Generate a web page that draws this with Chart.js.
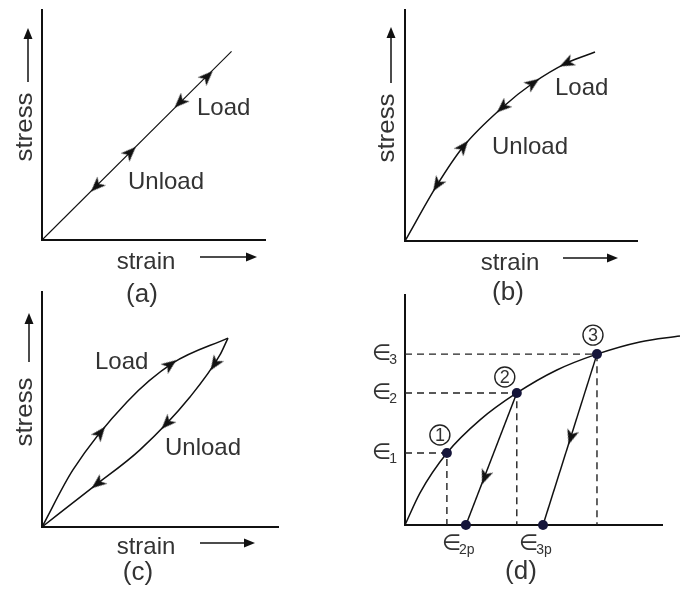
<!DOCTYPE html>
<html>
<head>
<meta charset="utf-8">
<script src="https://cdn.jsdelivr.net/npm/chart.js@4.4.0/dist/chart.umd.min.js"></script>
<style>
  body { margin: 0; background: #fff; }
  #wrap { position: relative; width: 681px; height: 592px; }
  #wrap canvas { position: absolute; left: 0; top: 0; }
</style>
</head>
<body>
<div id="wrap">
  <canvas id="chartA" width="681" height="592"></canvas>
  <canvas id="chartB" width="681" height="592"></canvas>
  <canvas id="chartC" width="681" height="592"></canvas>
  <canvas id="chartD" width="681" height="592"></canvas>
</div>
<script>
// (a) linear elastic
const lineAX = [0, 8.5];
const lineAY = [0, 8.2];
const arrowsAX = [2.45, 3.95, 6.2, 7.4];
const arrowsAY = [2.35, 3.8, 6.0, 7.1];
const arrowsADir = [-1, 1, -1, 1];

// (b) non-linear elastic
const curveBX = [0, 1.38, 2.5, 4.22, 5.52, 6.98, 8.19];
const curveBY = [0, 2.42, 4.07, 5.8, 6.84, 7.71, 8.18];
const arrowsBX = [1.4, 2.5, 4.22, 5.5, 6.98];
const arrowsBY = [2.45, 4.07, 5.8, 6.82, 7.71];
const arrowsBDir = [-1, 1, -1, 1, -1];

// (c) hysteresis loop
const loadCX = [0, 1.31, 3.6, 5.55, 7.88];
const loadCY = [0, 2.43, 5.32, 6.98, 8.04];
const unloadCX = [0, 2.16, 4.15, 6.27, 7.54, 7.88];
const unloadCY = [0, 1.7, 3.28, 5.53, 7.32, 8.04];
const loadArrowsCX = [2.46, 5.42];
const loadArrowsCY = [4.0, 6.9];
const unloadArrowsCX = [7.33, 5.3, 2.37];
const unloadArrowsCY = [6.95, 4.42, 1.86];

// (d) plastic loading / unloading
const curveDX = [0, 0.58, 1.63, 2.92, 4.35, 5.91, 7.47, 9.14, 10.7];
const curveDY = [0, 1.39, 3.13, 4.57, 5.74, 6.74, 7.43, 7.96, 8.22];
const stateX = [1.63, 4.35, 7.47];
const stateY = [3.13, 5.74, 7.43];
const stateNames = ['1', '2', '3'];
const plasticX = [2.37, 5.37];
const plasticNames = ['2p', '3p'];
const unloadArrowsDX = [3.11, 6.46];
const unloadArrowsDY = [2.09, 3.83];

const INK = '#111';
const TEXT = '#333';
const FONT = '"Liberation Sans", Arial, sans-serif';

function pts(xs, ys) { return xs.map((x, i) => ({ x: x, y: ys[i] })); }

function makeArrowHead() {
  const c = document.createElement('canvas');
  c.width = 22; c.height = 22;
  const g = c.getContext('2d');
  g.translate(11, 11);
  g.beginPath();
  g.moveTo(8, 0);
  g.lineTo(-7, -6);
  g.lineTo(-3, 0);
  g.lineTo(-7, 6);
  g.closePath();
  g.fillStyle = INK;
  g.fill();
  return c;
}
const arrowHead = makeArrowHead();

function polyAt(xs, ys, x) {
  for (let i = 0; i < xs.length - 1; i++) {
    const a = xs[i], b = xs[i + 1];
    if (x >= Math.min(a, b) && x <= Math.max(a, b)) {
      const t = b === a ? 0 : (x - a) / (b - a);
      return ys[i] + t * (ys[i + 1] - ys[i]);
    }
  }
  return ys[ys.length - 1];
}

// rotate the arrow head along the curve it sits on
function arrowRotation(xs, ys) {
  return (ctx) => {
    const chart = ctx.chart, raw = ctx.raw;
    if (!raw || !chart.scales.x) return 0;
    const sx = chart.scales.x, sy = chart.scales.y;
    const x0 = raw.x - 0.3, x1 = raw.x + 0.3;
    const px0 = sx.getPixelForValue(x0), py0 = sy.getPixelForValue(polyAt(xs, ys, x0));
    const px1 = sx.getPixelForValue(x1), py1 = sy.getPixelForValue(polyAt(xs, ys, x1));
    let ang = Math.atan2(py1 - py0, px1 - px0) * 180 / Math.PI;
    if (raw.d < 0) ang += 180;
    return ang;
  };
}

function arrowSet(xs, ys, dirs, curveX, curveY) {
  return {
    type: 'line',
    data: xs.map((x, i) => ({ x: x, y: ys[i], d: dirs[i] })),
    showLine: false,
    pointStyle: arrowHead,
    rotation: arrowRotation(curveX, curveY),
    pointRadius: 8,
    clip: false
  };
}

function curveSet(xs, ys, width, mode) {
  return {
    type: 'line',
    data: pts(xs, ys),
    borderColor: INK,
    borderWidth: width,
    pointRadius: 0,
    tension: mode ? 0.4 : 0,
    cubicInterpolationMode: mode || 'default',
    fill: false,
    clip: false
  };
}

function drawArrow(ctx, x0, y0, x1, y1) {
  const ang = Math.atan2(y1 - y0, x1 - x0);
  ctx.save();
  ctx.strokeStyle = INK;
  ctx.fillStyle = INK;
  ctx.lineWidth = 1.5;
  ctx.beginPath();
  ctx.moveTo(x0, y0);
  ctx.lineTo(x1 - 6 * Math.cos(ang), y1 - 6 * Math.sin(ang));
  ctx.stroke();
  ctx.translate(x1, y1);
  ctx.rotate(ang);
  ctx.beginPath();
  ctx.moveTo(0, 0);
  ctx.lineTo(-11, -4.5);
  ctx.lineTo(-11, 4.5);
  ctx.closePath();
  ctx.fill();
  ctx.restore();
}

function text(ctx, s, x, y, size, align) {
  ctx.save();
  ctx.font = size + 'px ' + FONT;
  ctx.fillStyle = TEXT;
  ctx.textAlign = align || 'center';
  ctx.textBaseline = 'middle';
  ctx.fillText(s, x, y);
  ctx.restore();
}

// stress / strain captions, their arrows, the panel tag and the curve labels
function axisDecor(o) {
  return {
    id: 'decor',
    afterDraw(chart) {
      const ctx = chart.ctx, L = chart.chartArea.left, B = chart.chartArea.bottom;
      ctx.save();
      ctx.translate(L + o.stressX, B + o.stressY);
      ctx.rotate(-Math.PI / 2);
      ctx.scale(1.08, 1);
      text(ctx, 'stress', 0, 0, 24);
      ctx.restore();
      drawArrow(ctx, L + o.upX, B + o.upY0, L + o.upX, B + o.upY1);
      text(ctx, 'strain', L + o.strainX, B + o.strainY, 24);
      drawArrow(ctx, L + o.rtX0, B + o.rtY, L + o.rtX1, B + o.rtY);
      text(ctx, o.tag, L + o.tagX, B + o.tagY, 26);
      o.labels.forEach(l => text(ctx, l[0], L + l[1], B + l[2], 24, 'left'));
    }
  };
}

function baseOptions(area) {
  const axis = {
    type: 'linear', min: 0, max: 10,
    grid: { display: false, drawTicks: false },
    ticks: { display: false },
    border: { display: true, color: INK, width: 2 },
    title: { display: false }
  };
  return {
    responsive: false,
    animation: false,
    events: [],
    layout: { padding: { left: area[0], top: area[1], right: 681 - area[2], bottom: 592 - area[3] } },
    plugins: { legend: { display: false }, tooltip: { enabled: false } },
    scales: { x: Object.assign({}, axis), y: Object.assign({}, axis) }
  };
}

Chart.defaults.font.family = FONT;

// (a)
new Chart(document.getElementById('chartA'), {
  type: 'line',
  data: { datasets: [
    arrowSet(arrowsAX, arrowsAY, arrowsADir, lineAX, lineAY),
    curveSet(lineAX, lineAY, 1.1, null)
  ] },
  options: baseOptions([42, 10, 265, 240]),
  plugins: [axisDecor({
    stressX: -17, stressY: -113, upX: -14, upY0: -158, upY1: -212,
    strainX: 104, strainY: 22, rtX0: 158, rtX1: 215, rtY: 17,
    tag: '(a)', tagX: 100, tagY: 55,
    labels: [['Load', 155, -132], ['Unload', 86, -58]]
  })]
});

// (b)
new Chart(document.getElementById('chartB'), {
  type: 'line',
  data: { datasets: [
    arrowSet(arrowsBX, arrowsBY, arrowsBDir, curveBX, curveBY),
    curveSet(curveBX, curveBY, 1.5, 'monotone')
  ] },
  options: baseOptions([405, 10, 637, 241]),
  plugins: [axisDecor({
    stressX: -18, stressY: -113, upX: -14, upY0: -158, upY1: -214,
    strainX: 105, strainY: 22, rtX0: 158, rtX1: 213, rtY: 17,
    tag: '(b)', tagX: 103, tagY: 52,
    labels: [['Load', 150, -153], ['Unload', 87, -94]]
  })]
});

// (c)
new Chart(document.getElementById('chartC'), {
  type: 'line',
  data: { datasets: [
    arrowSet(loadArrowsCX, loadArrowsCY, [1, 1], loadCX, loadCY),
    arrowSet(unloadArrowsCX, unloadArrowsCY, [-1, -1, -1], unloadCX, unloadCY),
    curveSet(loadCX, loadCY, 1.5, 'monotone'),
    curveSet(unloadCX, unloadCY, 1.5, 'monotone')
  ] },
  options: baseOptions([42, 292, 278, 527]),
  plugins: [axisDecor({
    stressX: -17, stressY: -115, upX: -13, upY0: -165, upY1: -214,
    strainX: 104, strainY: 20, rtX0: 158, rtX1: 213, rtY: 16,
    tag: '(c)', tagX: 96, tagY: 46,
    labels: [['Load', 53, -165], ['Unload', 123, -79]]
  })]
});

// (d)
function epsLabel(ctx, x, y, sub, align) {
  ctx.save();
  ctx.fillStyle = TEXT;
  ctx.textBaseline = 'middle';
  ctx.font = '22px "DejaVu Sans", sans-serif';
  const w1 = ctx.measureText('\u2208').width;
  ctx.font = '14px ' + FONT;
  const w2 = ctx.measureText(sub).width;
  const x0 = align === 'right' ? x - w1 - w2 : x;
  ctx.font = '22px "DejaVu Sans", sans-serif';
  ctx.textAlign = 'left';
  ctx.fillText('\u2208', x0, y);
  ctx.font = '14px ' + FONT;
  ctx.fillText(sub, x0 + w1 - 2, y + 6);
  ctx.restore();
}

const circleOffsets = [[-7, -18], [-12, -16], [-4, -19]];

new Chart(document.getElementById('chartD'), {
  type: 'line',
  data: { datasets: [
    {
      type: 'line',
      data: pts(stateX, stateY).concat(plasticX.map(x => ({ x: x, y: 0 }))),
      showLine: false,
      pointRadius: 5,
      pointBackgroundColor: '#15153a',
      pointBorderWidth: 0,
      clip: false
    },
    arrowSet([unloadArrowsDX[0]], [unloadArrowsDY[0]], [-1], [plasticX[0], stateX[1]], [0, stateY[1]]),
    arrowSet([unloadArrowsDX[1]], [unloadArrowsDY[1]], [-1], [plasticX[1], stateX[2]], [0, stateY[2]]),
    curveSet([plasticX[0], stateX[1]], [0, stateY[1]], 1.5, null),
    curveSet([plasticX[1], stateX[2]], [0, stateY[2]], 1.5, null),
    curveSet(curveDX, curveDY, 1.5, 'monotone')
  ].concat(stateX.map((x, i) => ({
    type: 'line',
    data: [{ x: 0, y: stateY[i] }, { x: x, y: stateY[i] }, { x: x, y: 0 }],
    borderColor: '#222',
    borderWidth: 1.4,
    borderDash: [7, 5],
    pointRadius: 0,
    tension: 0
  }))) },
  options: baseOptions([405, 295, 662, 525]),
  plugins: [{
    id: 'decorD',
    afterDraw(chart) {
      const ctx = chart.ctx, sx = chart.scales.x, sy = chart.scales.y;
      stateY.forEach((v, i) => epsLabel(ctx, chart.chartArea.left - 6, sy.getPixelForValue(v), stateNames[i], 'right'));
      plasticX.forEach((v, i) => epsLabel(ctx, sx.getPixelForValue(v) - 24, chart.chartArea.bottom + 19, plasticNames[i], 'left'));
      stateX.forEach((v, i) => {
        const cx = sx.getPixelForValue(v) + circleOffsets[i][0];
        const cy = sy.getPixelForValue(stateY[i]) + circleOffsets[i][1];
        ctx.save();
        ctx.strokeStyle = '#222';
        ctx.lineWidth = 1.4;
        ctx.fillStyle = '#fff';
        ctx.beginPath();
        ctx.arc(cx, cy, 10, 0, Math.PI * 2);
        ctx.fill();
        ctx.stroke();
        ctx.restore();
        text(ctx, stateNames[i], cx, cy + 1, 18);
      });
      text(ctx, '(d)', chart.chartArea.left + 116, chart.chartArea.bottom + 47, 26);
    }
  }]
});
</script>
</body>
</html>
